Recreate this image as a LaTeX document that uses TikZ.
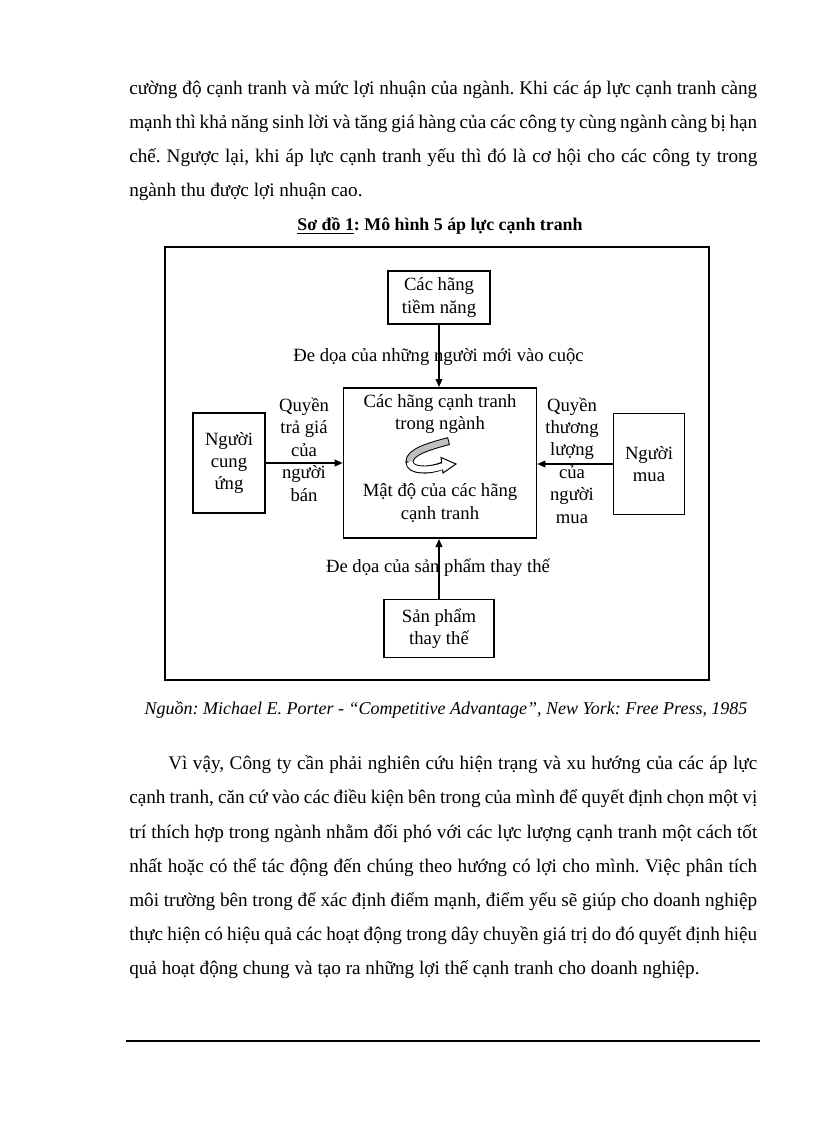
\documentclass[tikz,border=0pt]{standalone}
\usepackage{fontspec}
\setmainfont{Liberation Serif}
\usetikzlibrary{arrows.meta}
\frenchspacing
\newcommand\bodyfont{\fontsize{14.4pt}{16.8pt}\selectfont}
\newcommand\boxfont{\fontsize{14pt}{16.8pt}\selectfont}

\begin{document}
\begin{tikzpicture}[x=0.75pt,y=-0.75pt]
\tikzstyle{pline} = [anchor=base west,inner sep=0pt,font=\bodyfont]
\tikzstyle{box} = [draw,line width=1.2pt,align=center,font=\boxfont,inner sep=0pt]
\tikzstyle{lab} = [align=center,font=\boxfont,inner sep=0pt,anchor=base]
\tikzstyle{arr} = [-{Triangle[length=6pt,width=5pt]},line width=1pt]

\useasboundingbox[fill=white] (0,0) rectangle (816,1123);

% doan van phia tren
\node[pline] (p1) at (129,95) {\makebox[471pt][s]{cường độ cạnh tranh và mức lợi nhuận của ngành. Khi các áp lực cạnh tranh càng}};
\node[pline] (p2) at (129,129) {\makebox[471pt][s]{mạnh thì khả năng sinh lời và tăng giá hàng của các công ty cùng ngành càng bị hạn}};
\node[pline] (p3) at (129,163) {\makebox[471pt][s]{chế. Ngược lại, khi áp lực cạnh tranh yếu thì đó là cơ hội cho các công ty trong}};
\node[pline] (p4) at (129,197) {ngành thu được lợi nhuận cao.};

\node[anchor=base,inner sep=0pt,font=\fontsize{13.4pt}{16pt}\selectfont\bfseries] (title) at (440,231) {\underline{Sơ đồ 1}: Mô hình 5 áp lực cạnh tranh};

% khung so do
\draw[line width=1.5pt] (165,247) rectangle (709,680);

\node[box,minimum width=144.75pt,minimum height=112.8pt] (c0) at (440,463) {};
\node[box,minimum width=76.5pt,minimum height=39.75pt] (c1) at (439,297.5) {Các hãng\\tiềm năng};
\node[box,minimum width=54pt,minimum height=75pt] (c2) at (229,463) {Người\\cung\\ứng};
\node[box,minimum width=53.25pt,minimum height=75.5pt] (c3) at (649,464) {Người\\mua};
\node[box,minimum width=82.5pt,minimum height=43.5pt] (c4) at (439,628.5) {Sản phẩm\\thay thế};

% anchor=base la dong cuoi
\node[lab] (t1) at (440,429.6) {Các hãng cạnh tranh\\trong ngành};
\node[lab] (t2) at (440,519) {Mật độ của các hãng\\cạnh tranh};

\node[lab] (l1) at (438.5,361.5) {Đe dọa của những người mới vào cuộc};
\node[lab] (l2) at (304,501) {Quyền\\trả giá\\của\\người\\bán};
\node[lab] (l3) at (572,523) {Quyền\\thương\\lượng\\của\\người\\mua};
\node[lab] (l4) at (438,572.6) {Đe dọa của sản phẩm thay thế};

\draw[arr] (c1.south) -- (c1.south |- c0.north);
\draw[arr] (c4.north) -- (c4.north |- c0.south);
\draw[arr] (c2.east) -- (c2.east -| c0.west);
\draw[arr] (c3.west) -- (c3.west -| c0.east);

% mui ten cong o giua
\draw[line width=6pt] (449,441) .. controls (430,446) and (409,452) .. (409.5,462)
  .. controls (410,471) and (428,471.5) .. (442,466);
\filldraw[fill=white,line width=0.75pt,line join=miter] (441,457.5) -- (456,464) -- (443,473) -- cycle;
\draw[line width=4.5pt,black!25,shorten <=0.75pt] (449,441) .. controls (430,446) and (409,452) .. (409.5,462);
\draw[line width=4.5pt,white] (409.5,462) .. controls (410,471) and (428,471.5) .. (445,465.5);

\node[anchor=base,inner sep=0pt,font=\fontsize{13.5pt}{16pt}\selectfont\itshape] (src) at (446,714) {Nguồn: Michael E. Porter - “Competitive Advantage”, New York: Free Press, 1985};

% doan van phia duoi
\node[pline] (q1) at (168,769) {\makebox[441.75pt][s]{Vì vậy, Công ty cần phải nghiên cứu hiện trạng và xu hướng của các áp lực}};
\node[pline] (q2) at (129,803) {\makebox[471pt][s]{cạnh tranh, căn cứ vào các điều kiện bên trong của mình để quyết định chọn một vị}};
\node[pline] (q3) at (129,838) {\makebox[471pt][s]{trí thích hợp trong ngành nhằm đối phó với các lực lượng cạnh tranh một cách tốt}};
\node[pline] (q4) at (129,872) {\makebox[471pt][s]{nhất hoặc có thể tác động đến chúng theo hướng có lợi cho mình. Việc phân tích}};
\node[pline] (q5) at (129,906) {\makebox[471pt][s]{môi trường bên trong để xác định điểm mạnh, điểm yếu sẽ giúp cho doanh nghiệp}};
\node[pline] (q6) at (129,940) {\makebox[471pt][s]{thực hiện có hiệu quả các hoạt động trong dây chuyền giá trị do đó quyết định hiệu}};
\node[pline] (q7) at (129,974) {quả hoạt động chung và tạo ra những lợi thế cạnh tranh cho doanh nghiệp.};

\coordinate (f1) at (126,1041);
\coordinate (f2) at (760,1041);
\draw[line width=1.1pt] (f1) -- (f2);

\end{tikzpicture}
\end{document}
